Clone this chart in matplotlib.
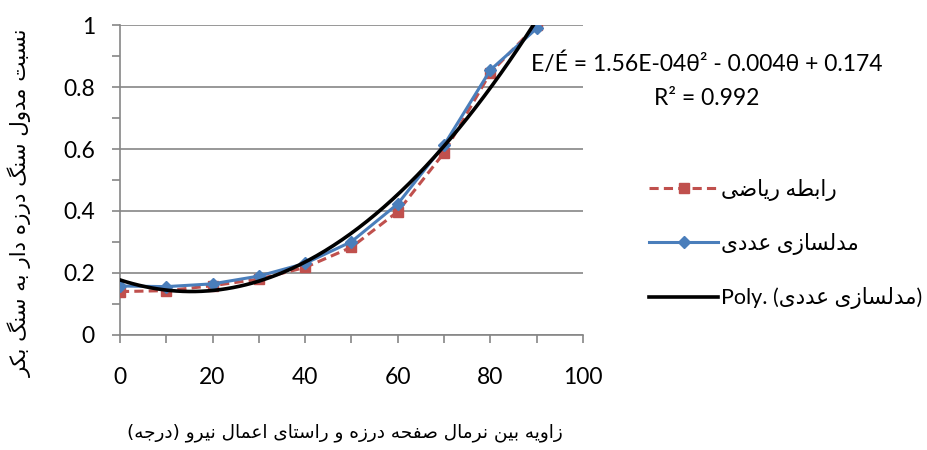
import matplotlib
matplotlib.use('Agg')
import matplotlib.pyplot as plt
import matplotlib.ticker as plticker
import numpy as np

angle = [0, 10, 20, 30, 40, 50, 60, 70, 80, 90]
math_relation = [0.140, 0.143, 0.159, 0.180, 0.218, 0.283, 0.398, 0.588, 0.846, 1.000]
numerical_model = [0.158, 0.156, 0.165, 0.190, 0.231, 0.301, 0.423, 0.613, 0.855, 0.989]

x_label = 'زاویه بین نرمال صفحه درزه و راستای اعمال نیرو (درجه)'
y_label = 'نسبت مدول سنگ درزه دار به سنگ بکر'
name_math = 'رابطه ریاضی'
name_num = 'مدلسازی عددی'
equation = 'E/É = 1.56E-04θ² - 0.004θ + 0.174'
r_squared = 'R² = 0.992'

# isolated, final, initial, medial presentation forms
FORMS = {
    'ا': ('\uFE8D', '\uFE8E', None, None),
    'ب': ('\uFE8F', '\uFE90', '\uFE91', '\uFE92'),
    'ت': ('\uFE95', '\uFE96', '\uFE97', '\uFE98'),
    'ج': ('\uFE9D', '\uFE9E', '\uFE9F', '\uFEA0'),
    'ح': ('\uFEA1', '\uFEA2', '\uFEA3', '\uFEA4'),
    'د': ('\uFEA9', '\uFEAA', None, None),
    'ر': ('\uFEAD', '\uFEAE', None, None),
    'ز': ('\uFEAF', '\uFEB0', None, None),
    'س': ('\uFEB1', '\uFEB2', '\uFEB3', '\uFEB4'),
    'ص': ('\uFEB9', '\uFEBA', '\uFEBB', '\uFEBC'),
    'ض': ('\uFEBD', '\uFEBE', '\uFEBF', '\uFEC0'),
    'ط': ('\uFEC1', '\uFEC2', '\uFEC3', '\uFEC4'),
    'ع': ('\uFEC9', '\uFECA', '\uFECB', '\uFECC'),
    'ف': ('\uFED1', '\uFED2', '\uFED3', '\uFED4'),
    'ل': ('\uFEDD', '\uFEDE', '\uFEDF', '\uFEE0'),
    'م': ('\uFEE1', '\uFEE2', '\uFEE3', '\uFEE4'),
    'ن': ('\uFEE5', '\uFEE6', '\uFEE7', '\uFEE8'),
    'ه': ('\uFEE9', '\uFEEA', '\uFEEB', '\uFEEC'),
    'و': ('\uFEED', '\uFEEE', None, None),
    'ی': ('\uFBFC', '\uFBFD', '\uFBFE', '\uFBFF'),
    'ک': ('\uFB8E', '\uFB8F', '\uFB90', '\uFB91'),
    'گ': ('\uFB92', '\uFB93', '\uFB94', '\uFB95'),
}


def shape(text):
    out = []
    for i, ch in enumerate(text):
        if ch not in FORMS:
            out.append(ch)
            continue
        prev = text[i - 1] if i > 0 else None
        nxt = text[i + 1] if i + 1 < len(text) else None
        join_prev = prev in FORMS and FORMS[prev][2] is not None
        join_next = nxt in FORMS and FORMS[ch][2] is not None
        iso, fin, ini, med = FORMS[ch]
        if join_prev and join_next:
            out.append(med)
        elif join_prev:
            out.append(fin)
        elif join_next:
            out.append(ini)
        else:
            out.append(iso)
    return ''.join(out)


def rtl(text):
    mirror = {'(': ')', ')': '('}
    return ''.join(mirror.get(c, c) for c in shape(text)[::-1])


plt.rcParams['font.family'] = ['Lato', 'DejaVu Sans']
ar_font = ['DejaVu Sans']

fig = plt.figure(figsize=(9.27, 4.5), dpi=100)
ax = fig.add_axes([0.1294, 0.2556, 0.4995, 0.6888])

grid_color = '#868686'
red = '#C0504D'
blue = '#4A7EBB'

ax.plot(angle, math_relation, color=red, linestyle='--', linewidth=2.2,
        marker='s', markersize=6.5, dashes=(3, 1.7), label=rtl(name_math), zorder=3)
ax.plot(angle, numerical_model, color=blue, linestyle='-', linewidth=2.2,
        marker='D', markersize=6, label=rtl(name_num), zorder=4)

# second order trendline of the numerical series
coef = np.polyfit(angle, numerical_model, 2)
xs = np.linspace(angle[0], angle[-1], 200)
ax.plot(xs, np.polyval(coef, xs), color='black', linewidth=2.6,
        label='Poly. (' + rtl(name_num) + ')', zorder=5)

ax.set_xlim(0, 100)
ax.set_ylim(0, 1)
ax.xaxis.set_major_locator(plticker.MultipleLocator(20))
ax.xaxis.set_minor_locator(plticker.MultipleLocator(10))
ax.yaxis.set_major_locator(plticker.MultipleLocator(0.2))
ax.yaxis.set_minor_locator(plticker.MultipleLocator(0.1))
ax.yaxis.set_major_formatter(plticker.FuncFormatter(lambda v, p: '{:g}'.format(round(v, 1))))
ax.grid(axis='y', which='major', color=grid_color, linewidth=1.2)
ax.set_axisbelow(True)

for side in ['top', 'right']:
    ax.spines[side].set_visible(False)
for side in ['left', 'bottom']:
    ax.spines[side].set_color(grid_color)
    ax.spines[side].set_linewidth(1.2)

ax.tick_params(axis='both', which='both', color=grid_color, width=1.2, length=6,
               direction='out', labelsize=16.5, labelcolor='black')
ax.tick_params(axis='x', pad=17)
ax.tick_params(axis='y', pad=12)

ax.set_xlabel(rtl(x_label), fontsize=13.3, family=ar_font)
ax.xaxis.set_label_coords(0.486, -0.285)
ax.set_ylabel(rtl(y_label), fontsize=15.4, family=ar_font)
ax.yaxis.set_label_coords(-0.19, 0.426)

fig.text(0.762, 0.858, equation, fontsize=16.5, ha='center', va='center')
fig.text(0.762, 0.782, r_squared, fontsize=16.5, ha='center', va='center')

leg = ax.legend(loc='center left', bbox_to_anchor=(0.691, 0.458), bbox_transform=fig.transFigure,
                frameon=False, handlelength=3.2, handletextpad=0.15, labelspacing=1.5,
                borderaxespad=0, prop={'family': ar_font, 'size': 15.5})
for t in leg.get_texts():
    t.set_family(['Lato', 'DejaVu Sans'])

fig.savefig('out.png', dpi=100)
